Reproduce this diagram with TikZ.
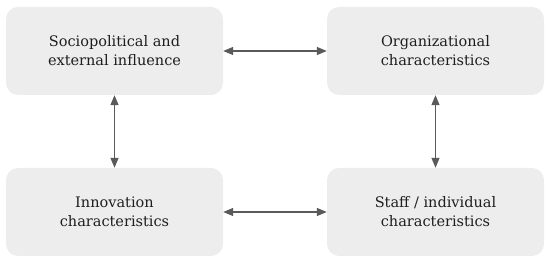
\documentclass[tikz,border=0pt]{standalone}
\usepackage{fontspec}
\setmainfont{DejaVu Serif}
\usepackage{xcolor}
\usetikzlibrary{arrows.meta}
\definecolor{boxgrey}{HTML}{EDEDED}
\definecolor{linkgrey}{HTML}{5A5A5A}
\definecolor{txtdark}{HTML}{1E1E1E}
\begin{document}
\begin{tikzpicture}[
            font=\fontsize{14.5}{19}\selectfont,
            >={Triangle[length=10pt, width=8pt]},
            factor/.style={fill=boxgrey, rounded corners=12pt, minimum width=217pt,
                           minimum height=88pt, align=center, text=txtdark, inner sep=0pt},
            link/.style  ={<->, draw=linkgrey, line width=1.3pt},
            x=1pt, y=1pt
        ]
        \useasboundingbox (0,0) rectangle (550,261);

        %% ===== the four factors =====
        \node[factor] (socio) at (114.5,210) {Sociopolitical and\\external influence};
        \node[factor] (org)   at (435.5,210) {Organizational\\characteristics};
        \node[factor] (innov) at (114.5,49)  {Innovation\\characteristics};
        \node[factor] (staff) at (435.5,49)  {Staff / individual\\characteristics};

        %% ===== links =====
        \draw[link] (socio) -- (org);
        \draw[link] (innov) -- (staff);
        \draw[link] (socio) -- (innov);
        \draw[link] (org)   -- (staff);
    \end{tikzpicture}
\end{document}
